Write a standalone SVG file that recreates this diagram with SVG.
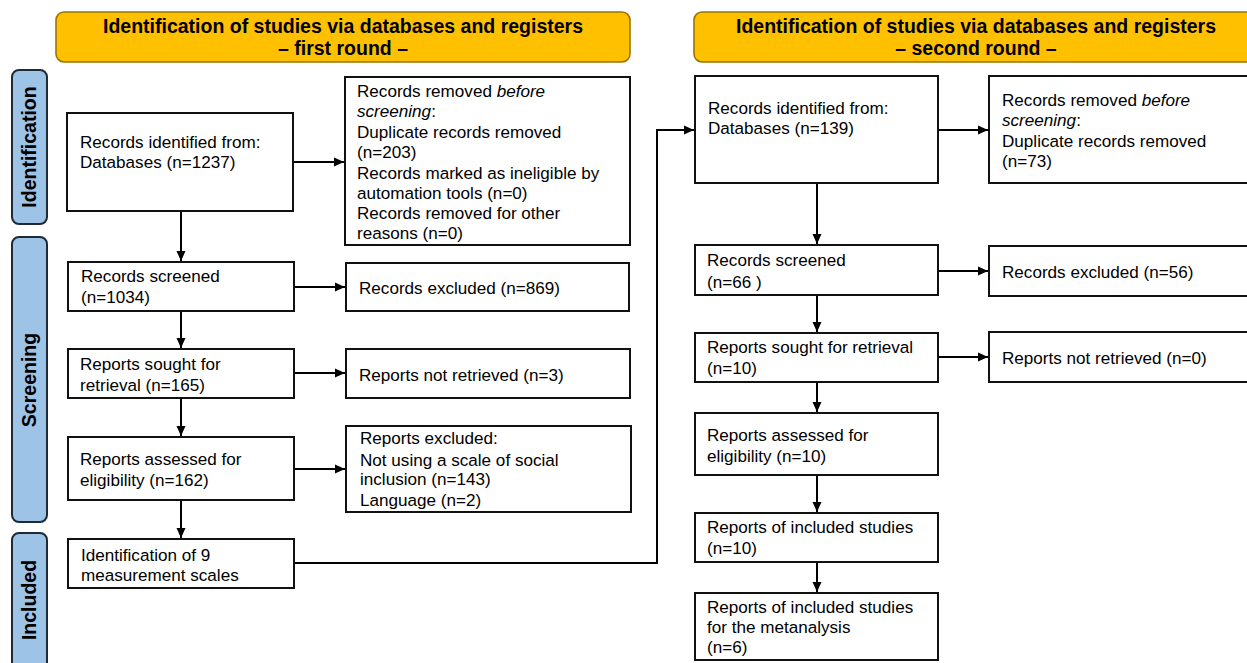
<svg xmlns="http://www.w3.org/2000/svg" width="1247" height="663" viewBox="0 0 1247 663">
<defs>
<marker id="ah" markerWidth="11" markerHeight="11" refX="10" refY="5.5" orient="auto" markerUnits="userSpaceOnUse">
<path d="M0,1 L10,5.5 L0,10 Z" fill="#000"/>
</marker>
<style>
.box{fill:#fff;stroke:#111;stroke-width:2}
.ban{fill:#FFC000;stroke:#9A7600;stroke-width:1.6}
.tab{fill:#9DC3E6;stroke:#1E2A36;stroke-width:2}
.t{font-family:"Liberation Sans",Arial,sans-serif;font-size:17.1px;fill:#000}
.bt{font-family:"Liberation Sans",Arial,sans-serif;font-size:19.5px;font-weight:bold;fill:#000;text-anchor:middle}
.c{fill:none;stroke:#000;stroke-width:2}
</style>
</defs>
<rect width="1247" height="663" fill="#fff"/>

<g id="banner1"><rect class="ban" x="56" y="12" width="574" height="50" rx="8"/>
<text class="bt" x="343" y="33">Identification of studies via databases and registers</text>
<text class="bt" x="343" y="55">– first round –</text></g>
<g id="banner2"><rect class="ban" x="694" y="12" width="570" height="50" rx="8"/>
<text class="bt" x="976" y="33">Identification of studies via databases and registers</text>
<text class="bt" x="976" y="55">– second round –</text></g>

<g id="tab-identification"><rect class="tab" x="12" y="70" width="35" height="154" rx="7"/>
<text class="bt" transform="translate(36,147) rotate(-90)">Identification</text></g>
<g id="tab-screening"><rect class="tab" x="12" y="237" width="35" height="285" rx="7"/>
<text class="bt" transform="translate(36,380) rotate(-90)">Screening</text></g>
<g id="tab-included"><rect class="tab" x="12" y="533" width="35" height="136" rx="7"/>
<text class="bt" transform="translate(36,600) rotate(-90)">Included</text></g>

<g id="connectors">
<line class="c" x1="293" y1="162" x2="344" y2="162" marker-end="url(#ah)"/>
<line class="c" x1="294" y1="287" x2="345" y2="287" marker-end="url(#ah)"/>
<line class="c" x1="294" y1="373" x2="345" y2="373" marker-end="url(#ah)"/>
<line class="c" x1="294" y1="469" x2="345" y2="469" marker-end="url(#ah)"/>
<line class="c" x1="181" y1="211" x2="181" y2="261" marker-end="url(#ah)"/>
<line class="c" x1="181" y1="311" x2="181" y2="348" marker-end="url(#ah)"/>
<line class="c" x1="181" y1="398" x2="181" y2="436" marker-end="url(#ah)"/>
<line class="c" x1="181" y1="500" x2="181" y2="538" marker-end="url(#ah)"/>
<polyline class="c" points="294,563 657,563 657,130 694,130" marker-end="url(#ah)"/>
<line class="c" x1="938" y1="130" x2="988" y2="130" marker-end="url(#ah)"/>
<line class="c" x1="938" y1="271" x2="988" y2="271" marker-end="url(#ah)"/>
<line class="c" x1="938" y1="357" x2="988" y2="357" marker-end="url(#ah)"/>
<line class="c" x1="817" y1="183" x2="817" y2="244" marker-end="url(#ah)"/>
<line class="c" x1="817" y1="295" x2="817" y2="332" marker-end="url(#ah)"/>
<line class="c" x1="817" y1="382" x2="817" y2="412" marker-end="url(#ah)"/>
<line class="c" x1="817" y1="475" x2="817" y2="512" marker-end="url(#ah)"/>
<line class="c" x1="817" y1="562" x2="817" y2="592" marker-end="url(#ah)"/>
</g>

<g id="n-identified1"><rect class="box" x="67" y="113" width="226" height="98"/>
<text class="t" x="80" y="148">Records identified from:</text>
<text class="t" x="80" y="168">Databases (n=1237)</text></g>
<g id="n-removed1"><rect class="box" x="345" y="77" width="285" height="168"/>
<text class="t" x="357" y="97">Records removed <tspan font-style="italic">before</tspan></text>
<text class="t" x="357" y="117"><tspan font-style="italic">screening</tspan>:</text>
<text class="t" x="357" y="138">Duplicate records removed</text>
<text class="t" x="357" y="158">(n=203)</text>
<text class="t" x="357" y="179">Records marked as ineligible by</text>
<text class="t" x="357" y="199">automation tools (n=0)</text>
<text class="t" x="357" y="219">Records removed for other</text>
<text class="t" x="357" y="239">reasons (n=0)</text></g>
<g id="n-screened1"><rect class="box" x="68" y="262" width="226" height="49"/>
<text class="t" x="81" y="282">Records screened</text>
<text class="t" x="81" y="303">(n=1034)</text></g>
<g id="n-excluded1"><rect class="box" x="346" y="263" width="283" height="48"/>
<text class="t" x="359" y="294">Records excluded (n=869)</text></g>
<g id="n-sought1"><rect class="box" x="68" y="349" width="226" height="49"/>
<text class="t" x="80" y="370">Reports sought for</text>
<text class="t" x="80" y="391">retrieval (n=165)</text></g>
<g id="n-notretrieved1"><rect class="box" x="346" y="349" width="284" height="49"/>
<text class="t" x="359" y="381">Reports not retrieved (n=3)</text></g>
<g id="n-assessed1"><rect class="box" x="68" y="437" width="226" height="63"/>
<text class="t" x="80" y="465">Reports assessed for</text>
<text class="t" x="80" y="486">eligibility (n=162)</text></g>
<g id="n-repexcluded1"><rect class="box" x="346" y="426" width="285" height="86"/>
<text class="t" x="360" y="444">Reports excluded:</text>
<text class="t" x="360" y="466">Not using a scale of social</text>
<text class="t" x="360" y="485">inclusion (n=143)</text>
<text class="t" x="360" y="506">Language (n=2)</text></g>
<g id="n-included1"><rect class="box" x="68" y="539" width="226" height="49"/>
<text class="t" x="81" y="561">Identification of 9</text>
<text class="t" x="81" y="581">measurement scales</text></g>

<g id="n-identified2"><rect class="box" x="695" y="76" width="243" height="107"/>
<text class="t" x="708" y="114">Records identified from:</text>
<text class="t" x="708" y="134">Databases (n=139)</text></g>
<g id="n-removed2"><rect class="box" x="989" y="76" width="275" height="107"/>
<text class="t" x="1002" y="106">Records removed <tspan font-style="italic">before</tspan></text>
<text class="t" x="1002" y="126"><tspan font-style="italic">screening</tspan>:</text>
<text class="t" x="1002" y="147">Duplicate records removed</text>
<text class="t" x="1002" y="167">(n=73)</text></g>
<g id="n-screened2"><rect class="box" x="695" y="245" width="243" height="50"/>
<text class="t" x="707" y="266">Records screened</text>
<text class="t" x="707" y="288">(n=66 )</text></g>
<g id="n-excluded2"><rect class="box" x="989" y="246" width="275" height="50"/>
<text class="t" x="1002" y="278">Records excluded (n=56)</text></g>
<g id="n-sought2"><rect class="box" x="695" y="333" width="243" height="49"/>
<text class="t" x="707" y="353">Reports sought for retrieval</text>
<text class="t" x="707" y="374">(n=10)</text></g>
<g id="n-notretrieved2"><rect class="box" x="989" y="332" width="275" height="50"/>
<text class="t" x="1002" y="364">Reports not retrieved (n=0)</text></g>
<g id="n-assessed2"><rect class="box" x="695" y="413" width="243" height="62"/>
<text class="t" x="707" y="441">Reports assessed for</text>
<text class="t" x="707" y="462">eligibility (n=10)</text></g>
<g id="n-included2"><rect class="box" x="695" y="513" width="243" height="49"/>
<text class="t" x="707" y="533">Reports of included studies</text>
<text class="t" x="707" y="554">(n=10)</text></g>
<g id="n-meta2"><rect class="box" x="695" y="593" width="243" height="67"/>
<text class="t" x="707" y="613">Reports of included studies</text>
<text class="t" x="707" y="633">for the metanalysis</text>
<text class="t" x="707" y="653">(n=6)</text></g>
</svg>
